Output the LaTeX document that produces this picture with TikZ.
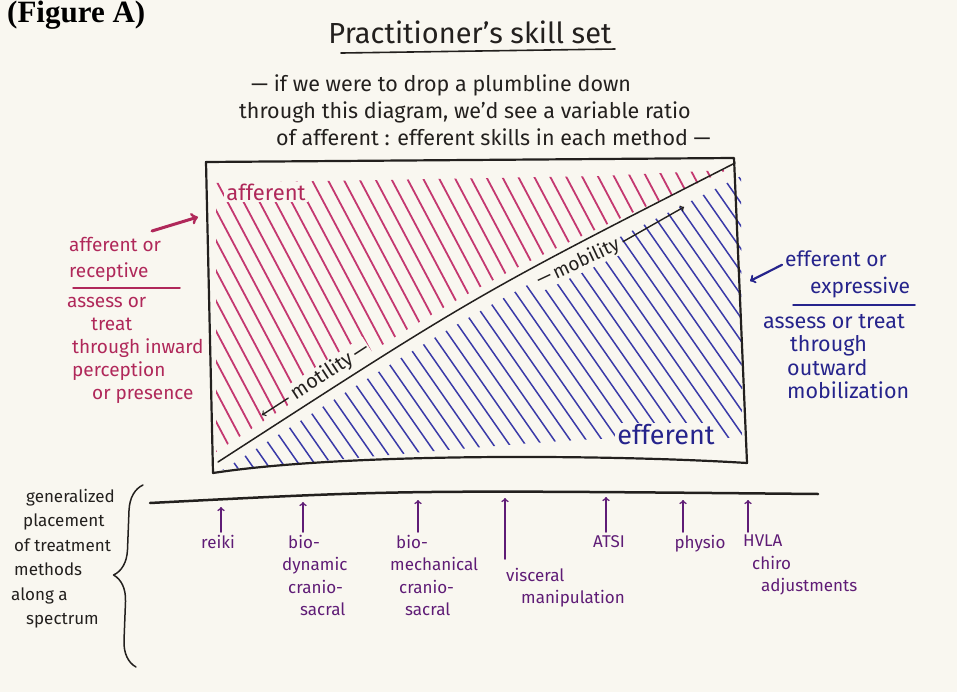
\documentclass[tikz,border=0pt]{standalone}
\usepackage{fontspec}
\setmainfont{Fira Sans}
\newfontfamily\figfont{Liberation Serif}
\usetikzlibrary{decorations.pathreplacing}

\definecolor{paper}{RGB}{249,247,240}
\definecolor{ink}{RGB}{35,32,30}
\definecolor{afred}{RGB}{176,40,90}
\definecolor{hatchred}{RGB}{196,56,112}
\definecolor{efblue}{RGB}{38,36,140}
\definecolor{hatchblue}{RGB}{58,58,168}
\definecolor{methpurple}{RGB}{95,28,118}

\tikzset{
  handtext/.style={font=\fontsize{19}{23}\selectfont, inner sep=1pt},
  boxline/.style={ink, line width=2.2},
  redhatch/.style={hatchred, line width=1.8},
  bluehatch/.style={hatchblue, line width=1.5},
  methodlabel/.style={methpurple, font=\fontsize{17}{22.5}\selectfont, inner sep=1pt, align=left},
  methodarrow/.style={methpurple, line width=1.6, ->, shorten <=2pt},
}

\begin{document}
\begin{tikzpicture}[x=1pt,y=-1pt,line cap=round,line join=round]
        \fill[paper] (0,0) rectangle (957,692);
        \useasboundingbox (0,0) rectangle (957,692);

        % heading
        \node[anchor=north west,inner sep=0pt,font=\figfont\bfseries\fontsize{31}{33}\selectfont] (figlabel) at (7,1) {(Figure A)};
        \node[ink,font=\fontsize{29}{33}\selectfont] (title) at (470,32) {Practitioner’s skill set};
        \draw[ink,line width=1.6] ([xshift=16pt,yshift=-6pt]title.south west) -- ([xshift=0pt,yshift=-2pt]title.south east);
        \node[ink,handtext,anchor=north west,align=left,font=\fontsize{21.5}{27}\selectfont] (plumb) at (238,74)
          {\hspace*{12pt}— if we were to drop a plumbline down\\
           through this diagram, we’d see a variable ratio\\
           \hspace*{37pt}of afferent : efferent skills in each method —};

        % the box and its split
        \coordinate (tl) at (206,162);
        \coordinate (tr) at (734,158);
        \coordinate (br) at (747,463);
        \coordinate (bl) at (213,473);
        \coordinate (dl) at (218,462);
        \coordinate (dr) at (735,163);

        \begin{scope}
          \clip (216,183) -- (600,176) -- (727,170) .. controls (476,283) .. (216,452) -- cycle;
          \foreach \x in {40,56,...,760}
            \draw[redhatch] (\x,150) -- (\x+175,480);
        \end{scope}
        \begin{scope}
          \clip (226,468) .. controls (480,307) .. (741,176) -- (742,438) .. controls (600,436) .. (222,470) -- cycle;
          \foreach \x in {-80,-64,...,760}
            \draw[bluehatch] (\x,150) -- (\x+230,480);
        \end{scope}

        \draw[boxline] (tl) -- (tr) -- (br) .. controls (620,455) and (350,452) .. (bl) -- cycle;
        \draw[ink,line width=1.5] (dl) .. controls (476,295) .. (dr);

        \node[afred,fill=paper,inner sep=2pt,font=\fontsize{22}{24}\selectfont] (afflabel) at (266,192) {afferent};
        \node[efblue,fill=paper,inner sep=2pt,font=\fontsize{27}{30}\selectfont] (efflabel) at (666,435) {efferent};

        \node[ink,fill=paper,inner sep=1pt,rotate=33,font=\fontsize{20}{22}\selectfont] (motility) at (330,371) {motility\,—};
        \coordinate (motTip) at (262,415);
        \draw[ink,line width=1.4,->,shorten <=4pt] (motility.west) -- (motTip);
        \node[ink,fill=paper,inner sep=1pt,rotate=25,font=\fontsize{19}{21}\selectfont] (mobility) at (578,263) {—\,mobility};
        \coordinate (mobTip) at (684,207);
        \draw[ink,line width=1.4,->,shorten <=4pt] (mobility.east) -- (mobTip);

        % left side, afferent
        \node[afred,handtext,anchor=north west,align=left,font=\fontsize{19}{26}\selectfont] (receptive) at (68,236) {afferent or\\receptive};
        \draw[afred,line width=1.5] (73,288) -- (180,288);
        \node[afred,handtext,anchor=north west,align=left] (inward) at (66,296)
          {assess or\\ \hspace*{24pt}treat\\ \hspace*{5pt}through inward\\ \hspace*{5pt}perception\\ \hspace*{25pt}or presence};
        \coordinate (affTail) at (152,231);
        \coordinate (affTip) at (198,217);
        \draw[afred,line width=3,->] (affTail) -- (affTip);

        % right side, efferent
        \node[efblue,handtext,anchor=north west,align=left,font=\fontsize{21}{27}\selectfont] (expressive) at (784,250) {efferent or\\ \hspace*{25pt}expressive};
        \draw[efblue,line width=1.5] (793,305) -- (915,305);
        \node[efblue,handtext,anchor=north west,align=left,font=\fontsize{21.5}{23.5}\selectfont] (outward) at (762,313)
          {assess or treat\\ \hspace*{27pt}through\\ \hspace*{24pt}outward\\ \hspace*{24pt}mobilization};
        \coordinate (effTip) at (750,281);
        \draw[efblue,line width=2.2,->] ([shift={(-2,-10)}]expressive.west) -- (effTip);

        % spectrum of methods
        \coordinate (specL) at (150,503);
        \coordinate (specR) at (818,494);
        \draw[ink,line width=2.5] (specL) .. controls (400,490) .. (specR);
        \draw[ink,line width=1.5,decorate,decoration={brace,amplitude=26pt}] (136,667) -- (143,485);
        \node[ink,anchor=north west,align=left,inner sep=1pt,font=\fontsize{17}{24.5}\selectfont] (spectrum) at (10,488)
          {\hspace*{15pt}generalized\\ \hspace*{12pt}placement\\ \hspace*{3pt}of treatment\\ \hspace*{3pt}methods\\ along a\\ \hspace*{15pt}spectrum};

        \coordinate (tReiki) at (221,507);
        \coordinate (tBiodyn) at (303,502);
        \coordinate (tBiomech) at (418,500);
        \coordinate (tVisceral) at (505,498);
        \coordinate (tAtsi) at (606,497);
        \coordinate (tPhysio) at (683,500);
        \coordinate (tHvla) at (748,500);

        \node[methodlabel,anchor=north] (reiki) at (218,534) {reiki};
        \node[methodlabel,anchor=north west] (biodyn) at (281,534) {\hspace*{6pt}bio-\\dynamic\\ \hspace*{6pt}cranio-\\ \hspace*{18pt}sacral};
        \node[methodlabel,anchor=north west] (biomech) at (389,534) {\hspace*{6pt}bio-\\mechanical\\ \hspace*{9pt}cranio-\\ \hspace*{15pt}sacral};
        \node[methodlabel,anchor=north west] (visceral) at (505,567) {visceral\\ \hspace*{15pt}manipulation};
        \node[methodlabel,anchor=north] (atsi) at (609,534) {ATSI};
        \node[methodlabel,anchor=north] (physio) at (700,534) {physio};
        \node[methodlabel,anchor=north west] (hvla) at (742,534) {HVLA\\ \hspace*{9pt}chiro\\ \hspace*{18pt}adjustments};

        \draw[methodarrow] (reiki.north -| tReiki) -- (tReiki);
        \draw[methodarrow] (biodyn.north -| tBiodyn) -- (tBiodyn);
        \draw[methodarrow] (biomech.north -| tBiomech) -- (tBiomech);
        \draw[methodarrow,shorten <=8pt] (visceral.north -| tVisceral) -- (tVisceral);
        \draw[methodarrow] (atsi.north -| tAtsi) -- (tAtsi);
        \draw[methodarrow] (physio.north -| tPhysio) -- (tPhysio);
        \draw[methodarrow] (hvla.north -| tHvla) -- (tHvla);
    \end{tikzpicture}
\end{document}
